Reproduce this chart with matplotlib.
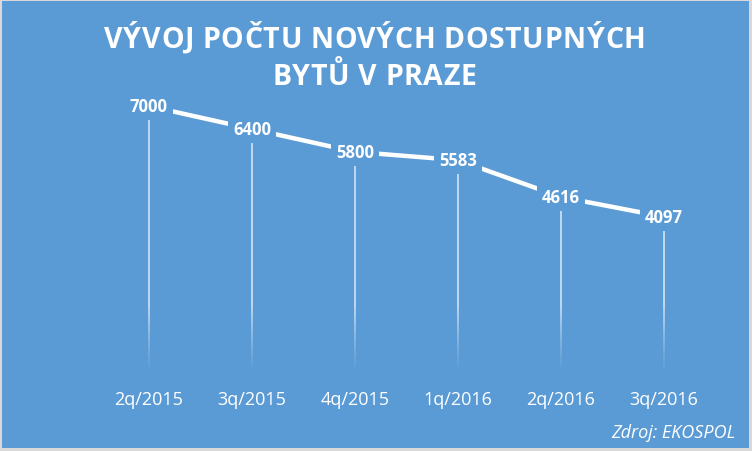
import matplotlib
matplotlib.use("Agg")
import matplotlib.pyplot as plt
import numpy as np
from matplotlib.collections import LineCollection
from matplotlib.patches import Rectangle

categories = ["2q/2015", "3q/2015", "4q/2015", "1q/2016", "2q/2016", "3q/2016"]
values = [7000, 6400, 5800, 5583, 4616, 4097]
title_lines = ["VÝVOJ POČTU NOVÝCH DOSTUPNÝCH", "BYTŮ V PRAZE"]
source = "Zdroj: EKOSPOL"

BLUE = "#5B9BD5"
W, H = 752, 452
fig = plt.figure(figsize=(W / 100, H / 100), dpi=100, facecolor="#D9D9D9")
fig.patches.append(Rectangle((2 / W, 3 / H), 747 / W, 447 / H, transform=fig.transFigure,
                             facecolor=BLUE, edgecolor="none", zorder=-5))

left = 97.5 / W
right = 715.5 / W
bottom = (H - 374) / H
top = (H - 69) / H
ax = fig.add_axes([left, bottom, right - left, top - bottom])
ax.set_zorder(2)
ax.set_facecolor("none")
ax.set_xlim(-0.5, len(categories) - 0.5)
ax.set_ylim(0, 8000)
for s in ax.spines.values():
    s.set_visible(False)
ax.set_yticks([])
x = np.arange(len(categories))
ax.set_xticks(x)
ax.set_xticklabels(categories, fontsize=13, color="white", family="Open Sans")
ax.tick_params(axis="x", length=0, pad=12)

# drop lines with fading bottom
segs, cols = [], []
n = 60
for xi, v in zip(x, values):
    fade_top = 1800
    segs.append([(xi, fade_top), (xi, v)])
    cols.append((1, 1, 1, 0.72))
    edges = np.linspace(0, fade_top, n + 1)
    for k in range(n):
        segs.append([(xi, edges[k]), (xi, edges[k + 1])])
        a = 0.72 * ((edges[k] + edges[k + 1]) / 2 / fade_top) ** 1.2
        cols.append((1, 1, 1, a))
lc = LineCollection(segs, colors=cols, linewidths=1.2, zorder=1, capstyle="butt")
ax.add_collection(lc)

ax.plot(x, values, color="white", lw=3.2, zorder=2, solid_capstyle="butt")

for xi, v in zip(x, values):
    ax.text(xi, v, f"{v}", ha="center", va="center", fontsize=12, fontweight="bold",
            color="white", family="Open Sans", zorder=3,
            bbox=dict(boxstyle="square,pad=0.3", facecolor=BLUE, edgecolor="none"))

renderer = fig.canvas.get_renderer()
tkw = dict(fontsize=20.5, fontweight="bold", color="white", family="Open Sans")


def measure(t):
    tt = fig.text(0, 0, t, **tkw)
    w = tt.get_window_extent(renderer).width
    tt.remove()
    return w


def tracked(s, xc_px, base_px, track):
    ref = measure("I")
    offs = [0.0] + [measure(s[:i] + "I") - ref for i in range(1, len(s))]
    total = measure(s) + track * (len(s) - 1)
    x0 = xc_px - total / 2
    for i, ch in enumerate(s):
        if ch == " ":
            continue
        fig.text((x0 + offs[i] + i * track) / W, 1 - base_px / H, ch, ha="left",
                 va="baseline", **tkw)


track = max(0.0, (541 - measure(title_lines[0])) / (len(title_lines[0]) - 1))
tracked(title_lines[0], 374.5, 48, track)
tracked(title_lines[1], 374.5, 85, track)

fig.text(735 / W, 1 - 433 / H, source, ha="right", va="center", fontsize=13,
         style="italic", color="white", family="Open Sans")

fig.savefig("out.png", dpi=100, facecolor=fig.get_facecolor())
